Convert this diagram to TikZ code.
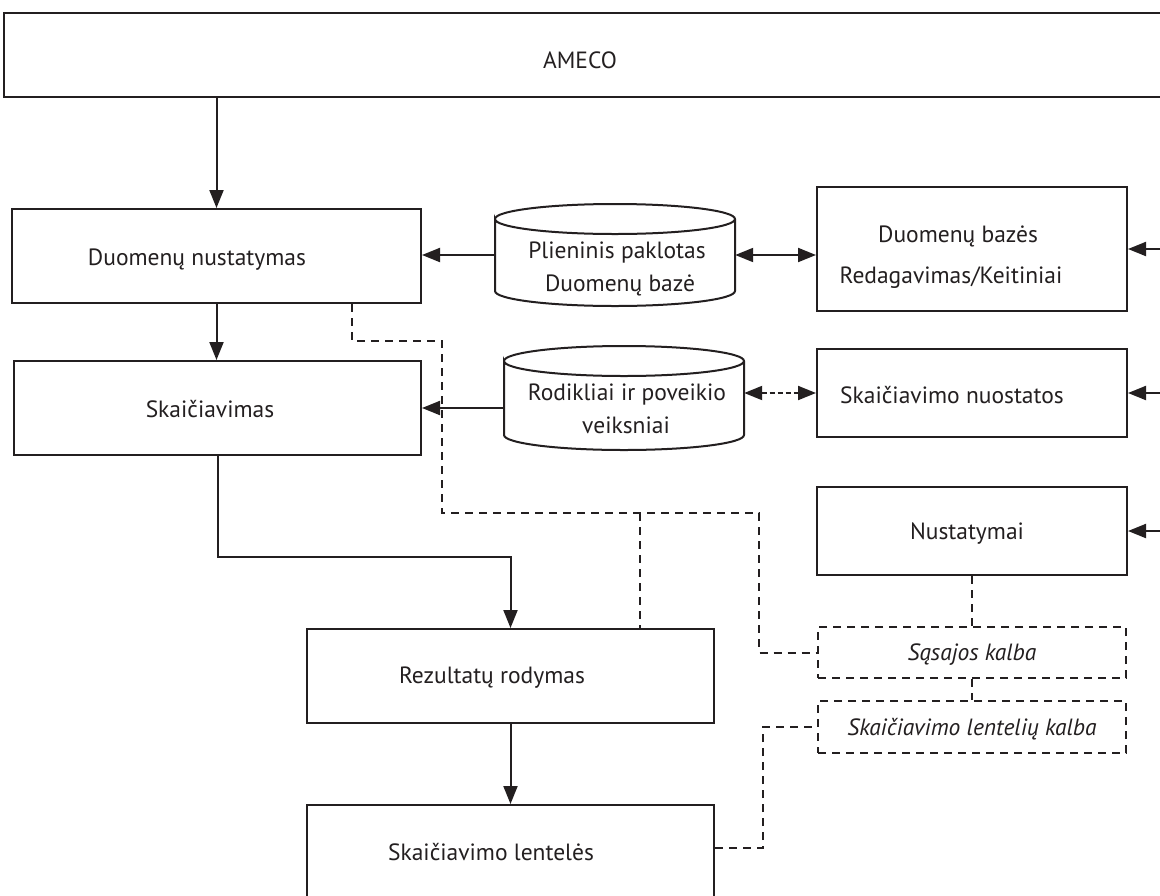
\documentclass[tikz,border=0pt]{standalone}
\usepackage{fontspec}
\setmainfont{PT Sans}
\usetikzlibrary{arrows.meta}
\definecolor{ink}{HTML}{231F20}
\begin{document}
\begin{tikzpicture}[x=1pt,y=-1pt, color=ink,
  tip/.style={Triangle[length=18pt,width=14pt]},
  box/.style={draw=ink, line width=2pt, inner sep=0pt},
  dbox/.style={draw=ink, line width=2pt, inner sep=0pt, dash pattern=on 8pt off 6pt},
  ln/.style={draw=ink, line width=2pt},
  arr/.style={draw=ink, line width=2pt, -{Triangle[length=18pt,width=14pt]}},
  darr/.style={draw=ink, line width=2pt, {Triangle[length=18pt,width=14pt]}-{Triangle[length=18pt,width=14pt]}},
  dsh/.style={draw=ink, line width=2pt, dash pattern=on 8pt off 6pt},
  lbl/.style={font=\fontsize{23.5}{28}\selectfont, text=ink, inner sep=0pt, anchor=base},
  ilbl/.style={lbl, font=\fontsize{23.5}{28}\selectfont\itshape}]
\useasboundingbox (0,0) rectangle (1160,895);
\clip (0,0) rectangle (1160,895);
\fill[white] (0,0) rectangle (1160,895);

% boxes
\node[box, minimum width=1166pt, minimum height=84pt] (ameco) at (587,55) {};
\node[box, minimum width=409pt, minimum height=94pt] (dn) at (216.5,256) {};
\node[box, minimum width=407pt, minimum height=94pt] (sk) at (217.5,408) {};
\node[box, minimum width=310pt, minimum height=124pt] (db) at (972,249) {};
\node[box, minimum width=310pt, minimum height=88pt] (sn) at (972,393) {};
\node[box, minimum width=310pt, minimum height=88pt] (nu) at (972,531) {};
\node[box, minimum width=407pt, minimum height=94pt] (rr) at (510.5,676) {};
\node[box, minimum width=407pt, minimum height=100pt] (sl) at (510.5,855) {};
\node[dbox, minimum width=308pt, minimum height=51pt] (sq) at (972,652.5) {};
\node[dbox, minimum width=308pt, minimum height=52pt] (lk) at (972,727) {};

% cylinders (invisible anchor nodes + drawn outline)
\node[inner sep=0pt, minimum width=240pt, minimum height=102pt] (c1) at (615,255) {};
\node[inner sep=0pt, minimum width=240pt, minimum height=104pt] (c2) at (624,398) {};
\draw[ln] (495,219) arc[start angle=180, end angle=0, x radius=120pt, y radius=15pt]
          arc[start angle=0, end angle=-180, x radius=120pt, y radius=15pt]
          -- (495,291) arc[start angle=180, end angle=360, x radius=120pt, y radius=15pt] -- (735,219);
\draw[ln] (504,361) arc[start angle=180, end angle=0, x radius=120pt, y radius=15pt]
          arc[start angle=0, end angle=-180, x radius=120pt, y radius=15pt]
          -- (504,435) arc[start angle=180, end angle=360, x radius=120pt, y radius=15pt] -- (744,361);

% labels
\node[lbl] (t-ameco) at (580,68) {AMECO};
\node[lbl] (t-dn) at (197,265) {Duomenų nustatymas};
\node[lbl] (t-sk) at (210,417) {Skaičiavimas};
\node[lbl] (t-c1a) at (617,258) {Plieninis paklotas};
\node[lbl] (t-c1b) at (620,291) {Duomenų bazė};
\node[lbl] (t-c2a) at (627,400) {Rodikliai ir poveikio};
\node[lbl] (t-c2b) at (626,433) {veiksniai};
\node[lbl] (t-dba) at (958,242) {Duomenų bazės};
\node[lbl] (t-dbb) at (951,283) {Redagavimas/Keitiniai};
\node[lbl] (t-sn) at (952,403) {Skaičiavimo nuostatos};
\node[lbl] (t-nu) at (967,539) {Nustatymai};
\node[lbl] (t-rr) at (492,683) {Rezultatų rodymas};
\node[lbl] (t-sl) at (491,860) {Skaičiavimo lentelės};
\node[ilbl] (t-sq) at (972,660) {Sąsajos kalba};
\node[ilbl] (t-lk) at (972,735) {Skaičiavimo lentelių kalba};

% solid connectors
\draw[arr] (dn.north |- ameco.south) -- (dn.north);
\draw[arr] (dn.south) -- (dn.south |- sk.north);
\draw[arr] (c1.west) -- (c1.west -| dn.east);
\draw[darr] (c1.east) -- (c1.east -| db.west);
\draw[arr] (c2.west |- sk.east) -- (sk.east);
\draw[arr] ([xshift=45pt]db.east) -- (db.east);
\draw[arr] ([xshift=45pt]sn.east) -- (sn.east);
\draw[arr] ([xshift=45pt]nu.east) -- (nu.east);
\draw[arr] (sk.south) -- ++(0,101) -| (rr.north);
\draw[arr] (rr.south) -- (sl.north);

% dashed connectors
\draw[draw=ink, line width=2pt, dash pattern=on 5pt off 3pt, {Triangle[length=18pt,width=14pt]}-{Triangle[length=18pt,width=14pt]}] (c2.east |- sn.west) -- (sn.west);
\coordinate (j1) at (640,513);
\draw[dsh] ([xshift=135.5pt]dn.south) |- (442,341) |- (j1) -| ([xshift=-58pt]sq.west) -- (sq.west);
\draw[dsh] (j1) -- (j1 |- rr.north);
\draw[dsh] (nu.south) -- (sq.north);
\draw[dsh] (sq.south) -- (lk.north);
\draw[dsh] ([yshift=7pt]sl.east) -- ++(48,0) |- (lk.west);
\end{tikzpicture}
\end{document}
